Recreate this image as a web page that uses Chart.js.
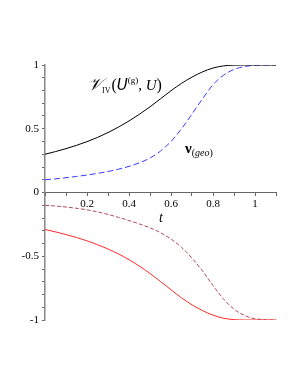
<!DOCTYPE html>
<html>
<head>
<meta charset="utf-8">
<script src="https://cdn.jsdelivr.net/npm/chart.js@4"></script>
<style>
  body { margin: 0; background: #fff; }
  #wrap { width: 298px; height: 385px; }
</style>
</head>
<body>
<div id="wrap"><canvas id="chart1" width="298" height="385"></canvas></div>
<script>
// sample points along t
var tValues = [0, 0.05, 0.1, 0.15, 0.2, 0.25, 0.3, 0.35, 0.4, 0.45, 0.5, 0.55,
               0.6, 0.65, 0.7, 0.75, 0.8, 0.85, 0.9, 0.95, 1.0, 1.05, 1.1];
// V_IV(U^(g), U), black solid
var vivValues = [0.30, 0.321, 0.344, 0.370, 0.399, 0.432, 0.470, 0.513, 0.561, 0.614, 0.672, 0.735,
                 0.798, 0.856, 0.905, 0.946, 0.976, 0.993, 0.999, 1, 1, 1, 1];
// nu_(geo), blue dashed
var nuGeoValues = [0.10, 0.107, 0.116, 0.126, 0.137, 0.15, 0.165, 0.183, 0.205, 0.233, 0.27, 0.325,
                   0.40, 0.50, 0.615, 0.735, 0.845, 0.92, 0.965, 0.988, 0.998, 1, 1];
// red solid
var negVivValues = [-0.29, -0.309, -0.33, -0.353, -0.379, -0.409, -0.443, -0.482, -0.527, -0.578, -0.635, -0.698,
                    -0.763, -0.826, -0.881, -0.926, -0.962, -0.986, -0.997, -1, -1, -1, -1];
// red dashed
var negNuValues = [-0.10, -0.106, -0.114, -0.124, -0.136, -0.152, -0.172, -0.195, -0.22, -0.247, -0.277, -0.315,
                   -0.365, -0.43, -0.515, -0.615, -0.73, -0.835, -0.915, -0.965, -0.99, -0.998, -1];
var yLabels = [-1, -0.5, 0, 0.5, 1];
var xLabels = [0.2, 0.4, 0.6, 0.8, 1];

function pts(ys) {
    return tValues.map(function (t, i) { return { x: t, y: ys[i] }; });
}

function near(v, list) {
    return list.some(function (l) { return Math.abs(l - v) < 1e-6; });
}

// text labels drawn on top of the plot
var labelPlugin = {
    id: 'labels',
    afterDraw: function (chart) {
        var ctx = chart.ctx;
        ctx.save();
        ctx.fillStyle = '#000';
        ctx.textBaseline = 'alphabetic';
        var x = 88, y = 90;
        function put(txt, font, dy) {
            ctx.font = font;
            ctx.fillText(txt, x, y + (dy || 0));
            x += ctx.measureText(txt).width;
        }
        put('\uD835\uDCB1', 'italic 17px "DejaVu Serif", serif');
        put('IV', '8px "Liberation Serif", serif', 3);
        x += 1;
        put('(', '16px "Liberation Serif", serif');
        put('U', 'italic 15px "DejaVu Sans", sans-serif');
        put('(g)', '9px "Liberation Serif", serif', -7);
        put(', ', '15px "Liberation Serif", serif');
        put('U', 'italic 15px "Liberation Serif", serif');
        put(')', '16px "Liberation Serif", serif');

        x = 185; y = 153;
        put('\u03BD', 'bold 15px "Liberation Serif", serif');
        put('(', '10px "Liberation Serif", serif', 3);
        put('geo', 'italic 10px "Liberation Serif", serif', 3);
        put(')', '10px "Liberation Serif", serif', 3);

        ctx.font = 'italic 14px "Liberation Serif", serif';
        ctx.fillText('t', 159, 222);
        ctx.restore();
    }
};

var ctx1 = document.getElementById('chart1').getContext('2d');
var chart1 = new Chart(ctx1, {
    type: 'line',
    data: {
        datasets: [{
            data: pts(vivValues),
            borderColor: '#000000',
            borderWidth: 1
        }, {
            data: pts(nuGeoValues),
            borderColor: '#3a3aff',
            borderWidth: 1,
            borderDash: [6, 3]
        }, {
            data: pts(negVivValues),
            borderColor: '#ff2a2a',
            borderWidth: 1
        }, {
            data: pts(negNuValues),
            borderColor: '#b44a5a',
            borderWidth: 1,
            borderDash: [4, 2]
        }]
    },
    options: {
        responsive: false,
        animation: false,
        layout: { padding: { left: 0, top: 65, right: 22, bottom: 65 } },
        elements: {
            point: { radius: 0 },
            line: { cubicInterpolationMode: 'monotone', fill: false }
        },
        plugins: {
            legend: { display: false },
            tooltip: { enabled: false }
        },
        scales: {
            x: {
                type: 'linear',
                min: 0,
                max: 1.1,
                position: { y: 0 },
                border: { color: '#666', width: 1 },
                grid: { drawOnChartArea: false, drawTicks: true, tickLength: 3, color: '#666' },
                ticks: {
                    stepSize: 0.1,
                    autoSkip: false,
                    maxRotation: 0,
                    padding: 2,
                    color: '#000',
                    font: { family: '"Liberation Serif", serif', size: 11 },
                    callback: function (v) { return near(v, xLabels) ? String(Math.round(v * 10) / 10) : ''; }
                }
            },
            y: {
                min: -1,
                max: 1,
                afterFit: function (scale) { scale.width = 45; },
                border: { color: '#888', width: 1.5 },
                grid: { drawOnChartArea: false, drawTicks: true, tickLength: 3, color: '#666' },
                ticks: {
                    stepSize: 0.1,
                    autoSkip: false,
                    padding: 3,
                    color: '#000',
                    font: { family: '"Liberation Serif", serif', size: 11 },
                    callback: function (v) { return near(v, yLabels) ? String(Math.round(v * 10) / 10) : ''; }
                }
            }
        }
    },
    plugins: [labelPlugin]
});
</script>
</body>
</html>
